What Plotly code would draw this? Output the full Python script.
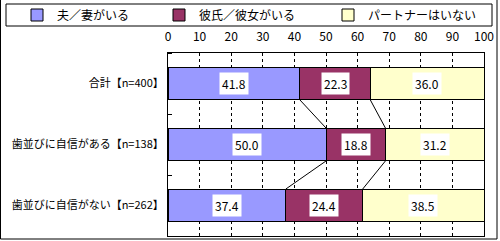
import plotly.graph_objects as go

categories = ["合計【n=400】", "歯並びに自信がある【n=138】", "歯並びに自信がない【n=262】"]
series_names = ["夫／妻がいる", "彼氏／彼女がいる", "パートナーはいない"]
married = [41.8, 50.0, 37.4]
partner = [22.3, 18.8, 24.4]
no_partner = [36.0, 31.2, 38.5]
colors = ["#9999FF", "#993366", "#FFFFCC"]
x_ticks = [0, 10, 20, 30, 40, 50, 60, 70, 80, 90, 100]

FONT = "Noto Sans CJK JP, Noto Sans, sans-serif"
W, H = 500, 241
L, R, T, B = 168, 16, 53, 5
PW, PH = W - L - R, H - T - B
BAR_W = 0.54


def px_x(p):
    return (p - L) / PW


def px_y(p):
    return (H - B - p) / PH


series = [married, partner, no_partner]
ypos = list(range(len(categories)))

# normalised (100% stacked) positions
totals = [sum(s[i] for s in series) for i in ypos]
norm = [[s[i] / totals[i] * 100 for i in ypos] for s in series]
cum = []
run = [0.0] * len(ypos)
for s in norm:
    start = run[:]
    run = [run[i] + s[i] for i in ypos]
    cum.append((start, run[:]))

fig = go.Figure()
legend_widths = [97, 124, 110]
for k, (name, vals, col) in enumerate(zip(series_names, series, colors)):
    fig.add_trace(go.Bar(
        y=ypos, x=vals, name=name, orientation="h",
        marker=dict(color=col, line=dict(color="black", width=1)),
        width=BAR_W, legendwidth=legend_widths[k],
    ))

# series lines between bars
for k in range(len(series) - 1):
    xs, ys = [], []
    for i in range(len(ypos) - 1):
        xs += [cum[k][1][i], cum[k][1][i + 1], None]
        ys += [ypos[i] + BAR_W / 2, ypos[i + 1] - BAR_W / 2, None]
    fig.add_trace(go.Scatter(x=xs, y=ys, mode="lines", showlegend=False,
                             line=dict(color="black", width=1), hoverinfo="skip"))

# data labels
for k, vals in enumerate(series):
    for i in ypos:
        mid = (cum[k][0][i] + cum[k][1][i]) / 2
        fig.add_annotation(x=mid, y=ypos[i], text=f"{vals[i]:.1f}", showarrow=False,
                           bgcolor="white", borderpad=2,
                           font=dict(family=FONT, size=12, color="black"))

# outer frame (left, right, bottom)
for x0, y0, x1, y1 in [(0.5, 0, 0.5, 239), (497, 0, 497, 239), (0.5, 239, 497, 239)]:
    fig.add_shape(type="line", xref="paper", yref="paper",
                  x0=px_x(x0), x1=px_x(x1), y0=px_y(y0), y1=px_y(y1),
                  line=dict(color="black", width=1))
# legend frame
fig.add_shape(type="rect", xref="paper", yref="paper",
              x0=px_x(6), x1=px_x(492), y0=px_y(26), y1=px_y(4),
              line=dict(color="black", width=1), fillcolor="rgba(0,0,0,0)")

fig.update_layout(
    width=W, height=H,
    margin=dict(l=L, r=R, t=T, b=B, pad=0, autoexpand=False),
    barmode="stack", barnorm="percent",
    plot_bgcolor="white", paper_bgcolor="white",
    font=dict(family=FONT, size=12, color="black"),
    showlegend=True,
    legend=dict(orientation="h", x=px_x(17), xanchor="left", y=px_y(15), yanchor="middle",
                bgcolor="rgba(0,0,0,0)", borderwidth=0, font=dict(family=FONT, size=12),
                itemwidth=30, traceorder="normal"),
)
fig.update_xaxes(
    range=[0, 100], side="top", tickvals=x_ticks, ticktext=[str(v) for v in x_ticks],
    showgrid=True, gridcolor="black", griddash="3px,3px", gridwidth=1,
    zeroline=False, showline=True, linecolor="black", linewidth=1, mirror=True,
    ticks="", ticklabelstandoff=6, tickfont=dict(family=FONT, size=12), automargin=False,
)
fig.update_yaxes(
    range=[len(categories) - 0.5, -0.5], tickvals=ypos, ticktext=categories,
    showgrid=False, zeroline=False, showline=True, linecolor="black", linewidth=1, mirror=True,
    ticks="", ticklabelstandoff=1, tickfont=dict(family=FONT, size=11), automargin=False,
    minor=dict(ticks="inside", ticklen=4, tickcolor="black", tick0=0.5, dtick=1, showgrid=False),
)

fig.write_html("out.html", config={"displayModeBar": False},
               post_script="document.body.style.margin='0';")
